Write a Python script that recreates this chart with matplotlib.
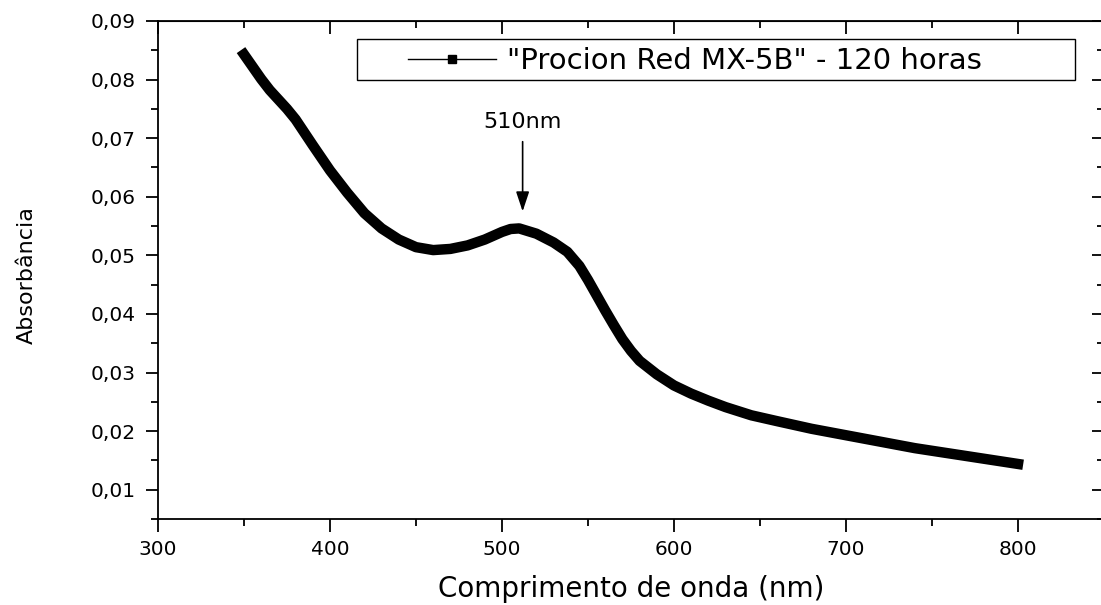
import numpy as np
import matplotlib.pyplot as plt
from matplotlib.lines import Line2D
from matplotlib.patches import Rectangle
from matplotlib.ticker import MultipleLocator, FuncFormatter

plt.rcParams['font.family'] = ['DejaVu Sans']

# absorbance spectrum
wavelength = [350, 355, 360, 365, 370, 375, 380, 390, 400, 410, 420, 430, 440,
              450, 460, 470, 480, 490, 500, 505, 510, 520, 530, 538, 545, 550,
              555, 560, 565, 570, 575, 580, 590, 600, 610, 620, 630, 645, 660,
              680, 700, 720, 740, 760, 780, 800]
absorb = [0.0843, 0.0822, 0.0801, 0.0782, 0.0766, 0.0750, 0.0732, 0.0688,
          0.0645, 0.0607, 0.0572, 0.0546, 0.0527, 0.0514, 0.0509, 0.0511,
          0.0517, 0.0527, 0.0540, 0.0545, 0.0546, 0.0537, 0.0522, 0.0506,
          0.0482, 0.0458, 0.0432, 0.0406, 0.0381, 0.0357, 0.0337, 0.0320,
          0.0297, 0.0278, 0.0264, 0.0252, 0.0241, 0.0227, 0.0217, 0.0204,
          0.0193, 0.0182, 0.0171, 0.0162, 0.0153, 0.0144]

series_label = '"Procion Red MX-5B" - 120 horas'
arrow_nm = 512
peak_label = '510nm'
x_ticks = [300, 400, 500, 600, 700, 800]
y_ticks = [0.01, 0.02, 0.03, 0.04, 0.05, 0.06, 0.07, 0.08, 0.09]

fig = plt.figure(figsize=(11.01, 6.05), dpi=100)
ax = fig.add_axes([0.1435, 0.1421, 0.8592, 0.8232])

ax.plot(wavelength, absorb, color='black', lw=7.5, solid_capstyle='projecting',
        solid_joinstyle='round')

ax.set_xlim(300, 850)
ax.set_ylim(0.005, 0.09)

comma = FuncFormatter(lambda v, p: f'{v:.2f}'.replace('.', ','))
ax.set_xticks(x_ticks)
ax.set_yticks(y_ticks)
ax.yaxis.set_major_formatter(comma)
ax.xaxis.set_minor_locator(MultipleLocator(50))
ax.yaxis.set_minor_locator(MultipleLocator(0.005))
ax.tick_params(which='both', direction='out', width=1.3, labelsize=14.5,
               top=False, right=False)
ax.tick_params(which='major', length=9)
ax.tick_params(which='minor', length=5)
ax.tick_params(axis='x', pad=6)
ax.tick_params(axis='y', pad=7)
for s in ax.spines.values():
    s.set_linewidth(1.3)

# inward ticks on top and right
top = ax.secondary_xaxis('top')
top.set_xticks(x_ticks)
top.xaxis.set_minor_locator(MultipleLocator(50))
top.tick_params(which='both', direction='in', width=1.3, labeltop=False)
top.tick_params(which='major', length=9)
top.tick_params(which='minor', length=5)
right = ax.secondary_yaxis('right')
right.set_yticks(y_ticks)
right.yaxis.set_minor_locator(MultipleLocator(0.005))
right.tick_params(which='both', direction='in', width=1.3, labelright=False)
right.tick_params(which='major', length=9)
right.tick_params(which='minor', length=5)

ax.set_xlabel('Comprimento de onda (nm)', fontsize=20)
ax.xaxis.set_label_coords(0.5, -0.112)
ax.set_ylabel('Absorbância', fontsize=16)
ax.yaxis.set_label_coords(-0.128, 0.49)

ax.annotate('', xy=(arrow_nm, 0.0575), xytext=(arrow_nm, 0.0694),
            arrowprops=dict(arrowstyle='-|>,head_length=0.6,head_width=0.2',
                            color='black', lw=1.2, mutation_scale=20,
                            shrinkA=0, shrinkB=0))
ax.text(arrow_nm, 0.0727, peak_label, ha='center', va='center', fontsize=16)

# legend with its own frame
ax.add_patch(Rectangle((0.2104, 0.8815), 0.7589, 0.0824, transform=ax.transAxes,
                       fill=False, edgecolor='black', lw=1.0, zorder=5))
handle = Line2D([], [], color='black', lw=1.0, marker='s', markersize=5.5)
ax.legend(handles=[handle], labels=[series_label], loc='center left',
          bbox_to_anchor=(0.2643, 0.9200), frameon=False, fontsize=21,
          handlelength=3.0, handletextpad=0.4, borderpad=0, borderaxespad=0)

fig.savefig('out.png', dpi=100)
